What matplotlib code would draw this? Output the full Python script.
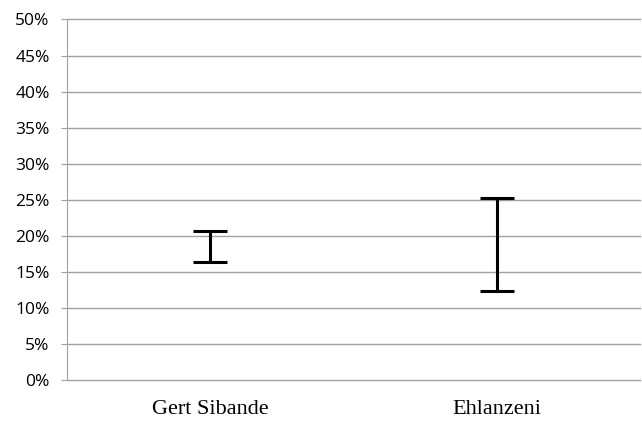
import matplotlib
matplotlib.use('Agg')
import matplotlib.pyplot as plt
from matplotlib.ticker import PercentFormatter

# Ranges per district (percent)
districts = ['Gert Sibande', 'Ehlanzeni']
low_vals = [16.3, 12.4]
high_vals = [20.7, 25.3]

fig = plt.figure(figsize=(6.42, 4.21), dpi=100)
ax = fig.add_axes([0.1044, 0.0974, 0.8926, 0.8563])

x = range(len(districts))
mids = [(lo + hi) / 2 for lo, hi in zip(low_vals, high_vals)]
errs = [(hi - lo) / 2 for lo, hi in zip(low_vals, high_vals)]
ax.errorbar(x, mids, yerr=errs, fmt='none', ecolor='black',
            elinewidth=2.2, capsize=12.5, capthick=2.2, zorder=3)

ax.set_xlim(-0.5, 1.5)
ax.set_ylim(0, 50)
ax.set_yticks(range(0, 51, 5))
ax.yaxis.set_major_formatter(PercentFormatter(decimals=0))
ax.grid(axis='y', color='#a0a0a0', linewidth=1.0)
ax.set_axisbelow(True)
for gl in ax.yaxis.get_gridlines():
    gl.set_clip_on(False)

ax.set_xticks(list(x))
ax.set_xticklabels(districts, fontsize=16, family='Liberation Serif')
ax.tick_params(axis='x', length=0, pad=14.5)
ax.tick_params(axis='y', length=4.5, color='#a0a0a0', labelsize=12.5, pad=8)
for lbl in ax.get_yticklabels():
    lbl.set_family('Open Sans')

for side in ['top', 'right', 'bottom']:
    ax.spines[side].set_visible(False)
ax.spines['left'].set_color('#a0a0a0')

fig.savefig('out.png', dpi=100)
